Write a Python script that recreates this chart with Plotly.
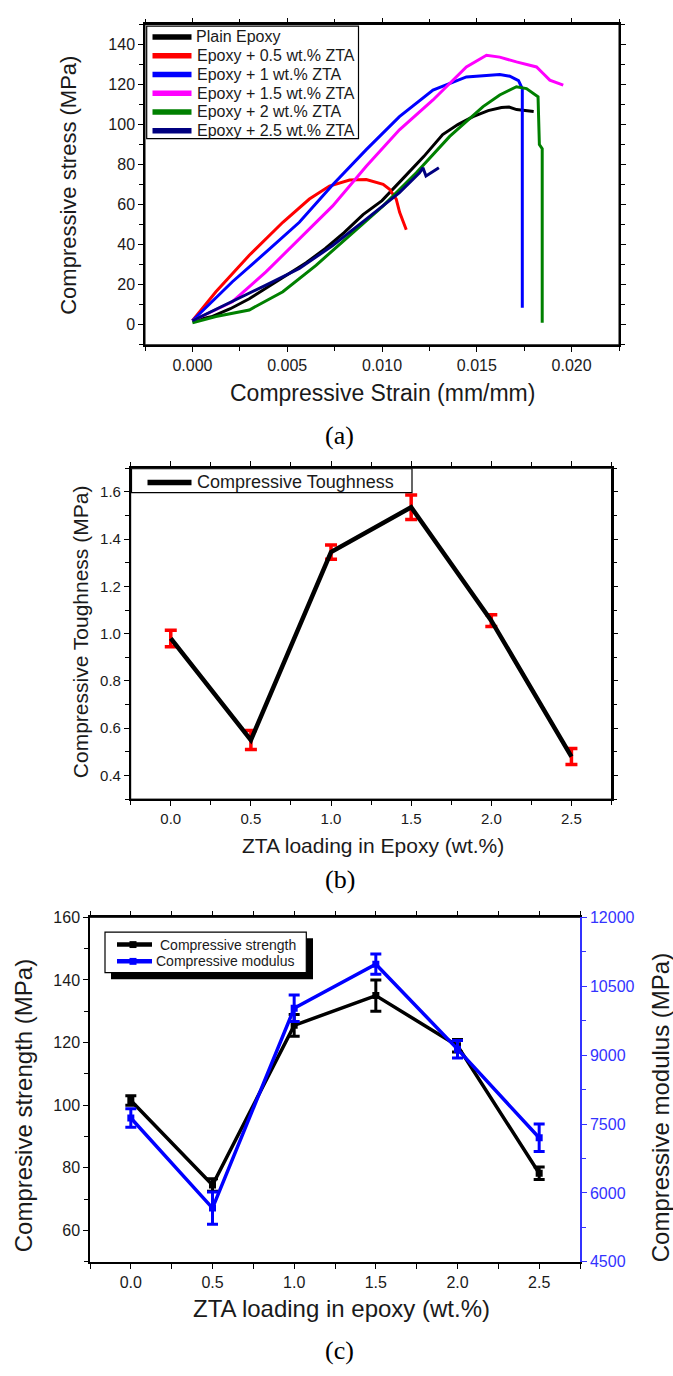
import plotly.graph_objects as go

# ---------------- Panel (a) data: compressive stress-strain curves ----------------
plain_strain = [0.0, 0.001, 0.002, 0.003, 0.004, 0.005, 0.006, 0.007, 0.008, 0.009, 0.0100, 0.0111,
                0.0122, 0.0132, 0.0140, 0.0148, 0.0156, 0.0163, 0.0167, 0.0171, 0.0175, 0.0180]
plain_stress = [2, 4, 8, 13, 19, 25, 31, 38, 46, 55, 62, 73, 84, 95, 100, 104, 107, 108.5, 108.8, 107.5, 107.2, 106.5]

zta05_strain = [0.0, 0.00124, 0.0030, 0.00477, 0.00617, 0.00723, 0.00829, 0.00917, 0.01006, 0.0104,
                0.01075, 0.01093, 0.01128]
zta05_stress = [2, 16.5, 34.7, 51.2, 62.8, 69.3, 72.3, 72.6, 70.2, 67.7, 62.8, 56.2, 47.5]

zta1_strain = [0.0, 0.00211, 0.00388, 0.00564, 0.0074, 0.00917, 0.01092, 0.01269, 0.01445, 0.01621,
               0.01674, 0.0172, 0.0174, 0.0174]
zta1_stress = [2, 21.5, 36.3, 51.2, 70.0, 87.5, 104.0, 117.2, 123.8, 125.0, 124.2, 122.0, 118.0, 8.5]

zta15_strain = [0.0, 0.00211, 0.00388, 0.00564, 0.0074, 0.00917, 0.01092, 0.01269, 0.01445, 0.01551,
                0.01621, 0.01709, 0.01815, 0.0185, 0.01885, 0.01956]
zta15_stress = [2, 11.5, 26.4, 42.9, 59.4, 79.2, 97.4, 112.3, 128.8, 134.6, 133.7, 131.3, 128.8, 125.5, 122.2, 119.7]

zta2_strain = [0.0, 0.00124, 0.0030, 0.00477, 0.00652, 0.00829, 0.01006, 0.01181, 0.01357, 0.01533,
               0.01621, 0.01709, 0.01762, 0.01823, 0.0183, 0.01845, 0.01845]
zta2_stress = [1, 4.1, 7.4, 16.5, 29.7, 44.6, 59.4, 75.9, 94.1, 109.0, 114.8, 118.9, 118.0, 113.9, 90, 88, 1]

zta25_strain = [0.0, 0.00211, 0.00388, 0.00564, 0.0074, 0.00917, 0.01092, 0.01198, 0.01216, 0.01232,
                0.01251, 0.01300]
zta25_stress = [2, 11.5, 19.8, 28.1, 39.6, 52.8, 66.0, 75.9, 78.4, 74.3, 75.5, 78.4]

series_names = ["Plain Epoxy", "Epoxy + 0.5 wt.% ZTA", "Epoxy + 1 wt.% ZTA",
                "Epoxy + 1.5 wt.% ZTA", "Epoxy + 2 wt.% ZTA", "Epoxy + 2.5 wt.% ZTA"]
series_colors = ["#000000", "#FF0000", "#0000FF", "#FF00FF", "#008000", "#000080"]

# ---------------- Panel (b) data: compressive toughness ----------------
loading = [0.0, 0.5, 1.0, 1.5, 2.0, 2.5]
toughness = [0.98, 0.55, 1.345, 1.535, 1.055, 0.48]
toughness_err = [0.035, 0.04, 0.03, 0.052, 0.025, 0.034]
toughness_name = "Compressive Toughness"

# ---------------- Panel (c) data: strength & modulus ----------------
strength = [101.5, 74.5, 125.5, 135.0, 119.0, 78.3]
strength_err = [1.5, 2.0, 3.5, 5.0, 2.0, 2.0]
modulus = [7630, 5670, 10020, 10980, 9130, 7200]
modulus_err = [200, 350, 290, 220, 190, 300]
c_names = ["Compressive strength", "Compressive modulus"]
c_colors = ["#000000", "#0000FF"]

SANS = "Liberation Sans, Arial, sans-serif"
SERIF = "Liberation Serif, Times New Roman, serif"
TXT = "#1a1a1a"
RBLUE = "#3333FF"
H = 1376.0
W = 673.0


def py(px):
    return 1 - px / H


def px_x(px):
    return px / W


fig = go.Figure()

curves = [(plain_strain, plain_stress), (zta05_strain, zta05_stress), (zta1_strain, zta1_stress),
          (zta15_strain, zta15_stress), (zta2_strain, zta2_stress), (zta25_strain, zta25_stress)]
for (sx, sy), name, col in zip(curves, series_names, series_colors):
    fig.add_trace(go.Scatter(x=sx, y=sy, mode="lines", name=name,
                             line=dict(color=col, width=3), xaxis="x", yaxis="y"))

fig.add_trace(go.Scatter(x=loading, y=toughness, mode="lines", name=toughness_name,
                         line=dict(color="black", width=4.5),
                         error_y=dict(type="data", array=toughness_err, color="#FF0000", thickness=3.5, width=6),
                         xaxis="x2", yaxis="y2"))

fig.add_trace(go.Scatter(x=loading, y=strength, mode="lines+markers", name=c_names[0],
                         line=dict(color=c_colors[0], width=3.5),
                         marker=dict(symbol="square", size=7, color=c_colors[0]),
                         error_y=dict(type="data", array=strength_err, color=c_colors[0], thickness=3, width=5.5),
                         xaxis="x3", yaxis="y3"))
fig.add_trace(go.Scatter(x=loading, y=modulus, mode="lines+markers", name=c_names[1],
                         line=dict(color=c_colors[1], width=3.5),
                         marker=dict(symbol="square", size=7, color=c_colors[1]),
                         error_y=dict(type="data", array=modulus_err, color=c_colors[1], thickness=3, width=5.5),
                         xaxis="x3", yaxis="y4"))


def ax(mirror="allticks", **kw):
    d = dict(showgrid=False, zeroline=False, showline=True, linecolor="black", linewidth=1.5,
             ticks="outside", ticklen=5, tickwidth=1.2, tickcolor="black", mirror=mirror)
    d.update(kw)
    return d


def minor(dt, col="black"):
    return dict(dtick=dt, tick0=0, ticks="outside", ticklen=4, tickwidth=1.2, tickcolor=col)


dom_a_x = [px_x(145), px_x(619)]
dom_a_y = [py(341), py(16.7)]
dom_b_x = [px_x(130.7), px_x(611.5)]
dom_b_y = [py(801), py(466)]
dom_c_x = [px_x(90), px_x(580)]
dom_c_y = [py(1269.5), py(920.7)]

fig.update_layout(
    width=673, height=1376, autosize=False,
    margin=dict(l=0, r=0, t=0, b=0),
    paper_bgcolor="white", plot_bgcolor="white",
    font=dict(family=SANS, color=TXT),
    showlegend=False,
    # panel a
    xaxis=ax(domain=dom_a_x, anchor="y", range=[-0.0025, 0.0225], tick0=0, dtick=0.005, tickformat=".3f",
             minor=minor(0.0025), tickfont=dict(size=16, color=TXT)),
    yaxis=ax(domain=dom_a_y, anchor="x", range=[-10, 150], tick0=0, dtick=20,
             minor=minor(10), tickfont=dict(size=16, color=TXT)),
    # panel b
    xaxis2=ax(domain=dom_b_x, anchor="y2", range=[-0.25, 2.75], tick0=0, dtick=0.5, tickformat=".1f",
              minor=minor(0.25), tickfont=dict(size=15, color=TXT)),
    yaxis2=ax(domain=dom_b_y, anchor="x2", range=[0.3, 1.7], tick0=0, dtick=0.2, tickformat=".1f",
              minor=minor(0.1), tickfont=dict(size=15, color=TXT)),
    # panel c
    xaxis3=ax(domain=dom_c_x, anchor="y3", range=[-0.25, 2.75], tick0=0, dtick=0.5, tickformat=".1f",
              minor=minor(0.25), tickfont=dict(size=16, color=TXT)),
    yaxis3=ax(mirror=False, domain=dom_c_y, anchor="x3", range=[50, 160], tick0=0, dtick=20,
              minor=minor(10), tickfont=dict(size=16, color=TXT)),
    yaxis4=ax(mirror=False, overlaying="y3", anchor="x3", side="right", range=[4500, 12000], tick0=0,
              dtick=1500, tickformat="d", minor=minor(750, RBLUE), linecolor=RBLUE, tickcolor=RBLUE,
              tickfont=dict(size=16, color=RBLUE)),
)

# plot frames (top / right borders) drawn in axis-domain coordinates
for xr, yr in [("x domain", "y domain"), ("x2 domain", "y2 domain")]:
    fig.add_shape(type="rect", xref=xr, yref=yr, x0=0, x1=1, y0=0, y1=1,
                  line=dict(color="black", width=1), fillcolor="rgba(0,0,0,0)", layer="below")
fig.add_shape(type="line", xref="x3 domain", yref="y3 domain", x0=0, x1=1, y0=1, y1=1,
              line=dict(color="black", width=1), layer="below")


def rect(x0, y0, x1, y1, fill="white", lw=1.2, lc="black"):
    fig.add_shape(type="rect", xref="paper", yref="paper", x0=px_x(x0), x1=px_x(x1),
                  y0=py(y1), y1=py(y0), fillcolor=fill, line=dict(width=lw, color=lc), layer="above")


def swatch(x0, x1, y, col, w):
    fig.add_shape(type="line", xref="paper", yref="paper", x0=px_x(x0), x1=px_x(x1),
                  y0=py(y), y1=py(y), line=dict(color=col, width=w), layer="above")


def label(text, x, y, size, anchor="left", angle=0, fam=SANS, col=TXT):
    fig.add_annotation(text=text, x=px_x(x), y=py(y), xref="paper", yref="paper",
                       xanchor=anchor, yanchor="middle", showarrow=False, textangle=angle,
                       font=dict(size=size, family=fam, color=col))


# ---- legend of panel (a)
rect(146.7, 18.3, 358.5, 132.2)
for i, (name, col) in enumerate(zip(series_names, series_colors)):
    yy = 29.3 + 19.0 * i
    swatch(152.5, 191.5, yy, col, 5.5)
    label(name, 194.5, yy, 16)

# ---- legend of panel (b)
rect(131.5, 466.5, 412, 490.7)
swatch(147.5, 191.5, 480.5, "black", 5.5)
label(toughness_name, 195, 479.5, 18)

# ---- legend of panel (c) with shadow
rect(111, 942, 313, 983.3, fill="black", lw=0)
rect(105, 935.7, 306.3, 976.7)
for i, (name, col) in enumerate(zip(c_names, c_colors)):
    yy = 948.3 + 17.0 * i
    swatch(117, 152, yy, col, 4.5)
    rect(129.5, yy - 3.5, 136.5, yy + 3.5, fill=col, lw=0)
    label(name, 157.5 - 3.5 * i, yy, 14)

# ---- axis titles and panel labels
label("Compressive Strain (mm/mm)", 382, 390, 23, anchor="center")
label("Compressive stress (MPa)", 69, 180, 22, anchor="center", angle=-90)
label("(a)", 339.5, 433, 26, anchor="center", fam=SERIF, col="black")

label("ZTA loading in Epoxy (wt.%)", 373, 848, 21, anchor="center")
label("Compressive Toughness (MPa)", 80, 632, 21, anchor="center", angle=-90)
label("(b)", 339.5, 882, 26, anchor="center", fam=SERIF, col="black")

label("ZTA loading in epoxy (wt.%)", 341, 1317, 24, anchor="center")
label("Compresive strength (MPa)", 23, 1112, 24, anchor="center", angle=-90)
label("Compressive modulus (MPa)", 660, 1114, 24, anchor="center", angle=-90)
label("(c)", 339.5, 1359, 26, anchor="center", fam=SERIF, col="black")

fig.write_html("out.html")
